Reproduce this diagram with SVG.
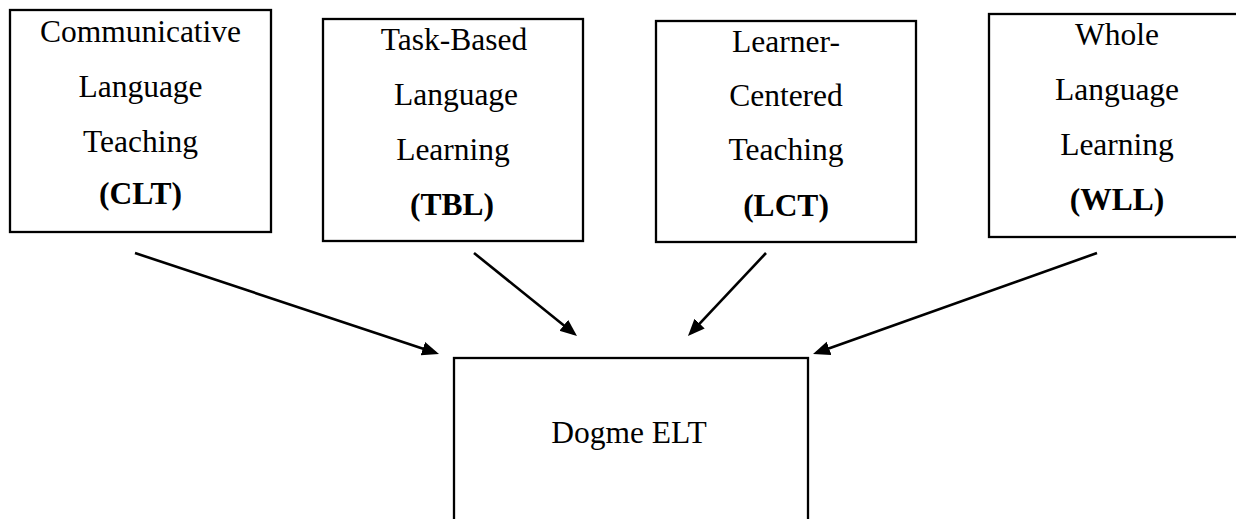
<svg xmlns="http://www.w3.org/2000/svg" width="1236" height="519" viewBox="0 0 1236 519">
<style>
.box{fill:#fff;stroke:#000;stroke-width:2.3}
.t{font-family:"Liberation Serif","Times New Roman",serif;font-size:31.5px;fill:#000;text-anchor:middle}
.b{font-weight:bold}
.c{stroke:#000;stroke-width:2.6;fill:none;marker-end:url(#ah)}
</style>
<defs>
<marker id="ah" markerUnits="userSpaceOnUse" markerWidth="20" markerHeight="16" refX="13" refY="7" orient="auto">
<path d="M0,0 L17,7 L0,14 z" fill="#000"/>
</marker>
</defs>
<rect width="1236" height="519" fill="#fff"/>
<g id="clt">
<rect class="box" x="10" y="10" width="261" height="222"/>
<text class="t" x="140.5" y="42">Communicative</text>
<text class="t" x="140.5" y="97">Language</text>
<text class="t" x="140.5" y="152">Teaching</text>
<text class="t b" x="140.5" y="204">(CLT)</text>
</g>
<g id="tbl">
<rect class="box" x="323" y="19" width="260" height="222"/>
<text class="t" x="454" y="50">Task-Based</text>
<text class="t" x="456" y="105">Language</text>
<text class="t" x="453" y="160">Learning</text>
<text class="t b" x="452" y="215">(TBL)</text>
</g>
<g id="lct">
<rect class="box" x="656" y="21" width="260" height="221"/>
<text class="t" x="786" y="52">Learner-</text>
<text class="t" x="786" y="106">Centered</text>
<text class="t" x="786" y="160">Teaching</text>
<text class="t b" x="786" y="216">(LCT)</text>
</g>
<g id="wll">
<rect class="box" x="989" y="14" width="258" height="223"/>
<text class="t" x="1117" y="45">Whole</text>
<text class="t" x="1117" y="100">Language</text>
<text class="t" x="1117" y="155">Learning</text>
<text class="t b" x="1117" y="210">(WLL)</text>
</g>
<g id="dogme">
<rect class="box" x="454" y="358" width="354" height="180"/>
<text class="t" x="629" y="443">Dogme ELT</text>
</g>
<g id="connectors">
<line class="c" x1="135" y1="253" x2="435.2" y2="352.7"/>
<line class="c" x1="474" y1="253" x2="573.9" y2="333.5"/>
<line class="c" x1="766" y1="253" x2="690.7" y2="333.1"/>
<line class="c" x1="1097" y1="253" x2="816.8" y2="352.7"/>
</g>
</svg>
